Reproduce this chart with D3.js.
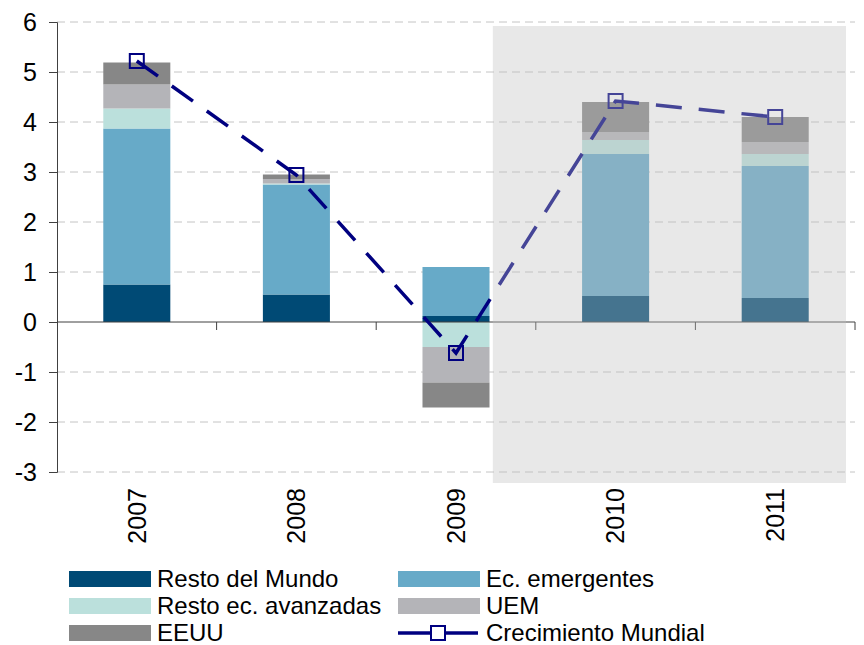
<!DOCTYPE html>
<html><head><meta charset="utf-8">
<script src="https://cdn.jsdelivr.net/npm/d3@7"></script>
<style>body{margin:0;background:#fff}svg{display:block;font-family:"Liberation Sans",Arial,sans-serif}</style>
</head><body><svg id="c" width="864" height="645"></svg>
<script>
const years = ["2007","2008","2009","2010","2011"];
const seriesNames = ["Resto del Mundo","Ec. emergentes","Resto ec. avanzadas","UEM","EEUU"];
const restoMundo   = [0.75, 0.55, 0.12, 0.52, 0.48];
const ecEmergentes = [3.12, 2.20, 0.98, 2.84, 2.64];
const restoAvanz   = [0.40, 0.02, -0.50, 0.28, 0.24];
const uem          = [0.48, 0.09, -0.71, 0.16, 0.24];
const eeuu         = [0.44, 0.09, -0.50, 0.60, 0.50];
const crecimiento  = [5.22, 2.94, -0.62, 4.42, 4.10];
const yTicks = [-3,-2,-1,0,1,2,3,4,5,6];
const lineName = "Crecimiento Mundial";
const colors = ["#004a75","#67aac8","#bbe0dc","#b4b4b8","#878787"];
const shadedYears = ["2010","2011"];

const svg = d3.select("#c");
const x = d3.scaleBand().domain(years).range([57,855]);
const y = d3.scaleLinear().domain([-3,6]).range([472,22]);

const rows = years.map((yr,i)=>({year:yr, s0:restoMundo[i], s1:ecEmergentes[i], s2:restoAvanz[i], s3:uem[i], s4:eeuu[i]}));
const keys = ["s0","s1","s2","s3","s4"];
const stack = d3.stack().keys(keys).offset(d3.stackOffsetDiverging)(rows);

// gridlines
svg.append("g").selectAll("line").data(yTicks.filter(t=>t!==0)).join("line")
  .attr("x1",57).attr("x2",855).attr("y1",d=>y(d)).attr("y2",d=>y(d))
  .attr("stroke","#c4c4c4").attr("stroke-width",1).attr("stroke-dasharray","8,5");

// bars
const bw = x.bandwidth()*0.42;
svg.append("g").selectAll("g").data(stack).join("g")
  .attr("fill",(d,i)=>colors[i])
  .selectAll("rect").data(d=>d).join("rect")
  .attr("x",d=>x(d.data.year)+x.bandwidth()/2-bw/2)
  .attr("width",bw)
  .attr("y",d=>y(Math.max(d[0],d[1])))
  .attr("height",d=>Math.abs(y(d[0])-y(d[1])));

// axes
const yAxis = d3.axisLeft(y).tickValues(yTicks).tickSize(8).tickPadding(12).tickFormat(d=>String(d));
const gy = svg.append("g").attr("transform","translate(57,0)").call(yAxis);
gy.select(".domain").attr("stroke","#404040");
gy.selectAll(".tick line").attr("stroke","#404040");
gy.selectAll(".tick text").attr("font-size",25).attr("fill","#000").attr("font-family","Liberation Sans, Arial, sans-serif");

const xg = svg.append("g");
xg.append("line").attr("x1",57).attr("x2",855).attr("y1",y(0)).attr("y2",y(0)).attr("stroke","#404040");
const bounds = years.map(yr=>x(yr)).concat([x(years[years.length-1])+x.bandwidth()]);
xg.selectAll("line.t").data(bounds.slice(1)).join("line").attr("class","t")
  .attr("x1",d=>d).attr("x2",d=>d).attr("y1",y(0)).attr("y2",y(0)+8).attr("stroke","#404040");
xg.selectAll("text").data(years).join("text")
  .attr("transform",d=>`translate(${x(d)+x.bandwidth()/2},488) rotate(-90)`)
  .attr("text-anchor","end").attr("dy","0.35em").attr("font-size",25).attr("fill","#000").text(d=>d);

// line
const line = d3.line().x((d,i)=>x(years[i])+x.bandwidth()/2).y(d=>y(d));
svg.append("path").datum(crecimiento).attr("d",line).attr("fill","none")
  .attr("stroke","#000080").attr("stroke-width",3.5).attr("stroke-dasharray","26,17");
svg.append("g").selectAll("rect").data(crecimiento).join("rect")
  .attr("x",(d,i)=>x(years[i])+x.bandwidth()/2-7).attr("y",d=>y(d)-7)
  .attr("width",14).attr("height",14).attr("fill","none").attr("stroke","#000080").attr("stroke-width",2);

// shaded forecast region (semi-transparent overlay)
const sx0 = x(shadedYears[0]) - 43;
svg.append("rect").attr("x",sx0).attr("y",26).attr("width",846-sx0).attr("height",457)
  .attr("fill","#bebebe").attr("fill-opacity",0.36);

// legend
const leg = svg.append("g").attr("font-size",24).attr("fill","#000");
const legPos = [[69,571],[398,571],[69,598],[398,598],[69,625]];
seriesNames.forEach((n,i)=>{
  const [lx,ly]=legPos[i];
  leg.append("rect").attr("x",lx).attr("y",ly).attr("width",82).attr("height",16).attr("fill",colors[i]);
  leg.append("text").attr("x",lx+88).attr("y",ly+16).text(n);
});
leg.append("line").attr("x1",398).attr("x2",478).attr("y1",633).attr("y2",633).attr("stroke","#000080").attr("stroke-width",3.5);
leg.append("rect").attr("x",431).attr("y",626).attr("width",14).attr("height",14).attr("fill","#fff").attr("stroke","#000080").attr("stroke-width",2);
leg.append("text").attr("x",486).attr("y",641).text(lineName);
</script></body></html>
